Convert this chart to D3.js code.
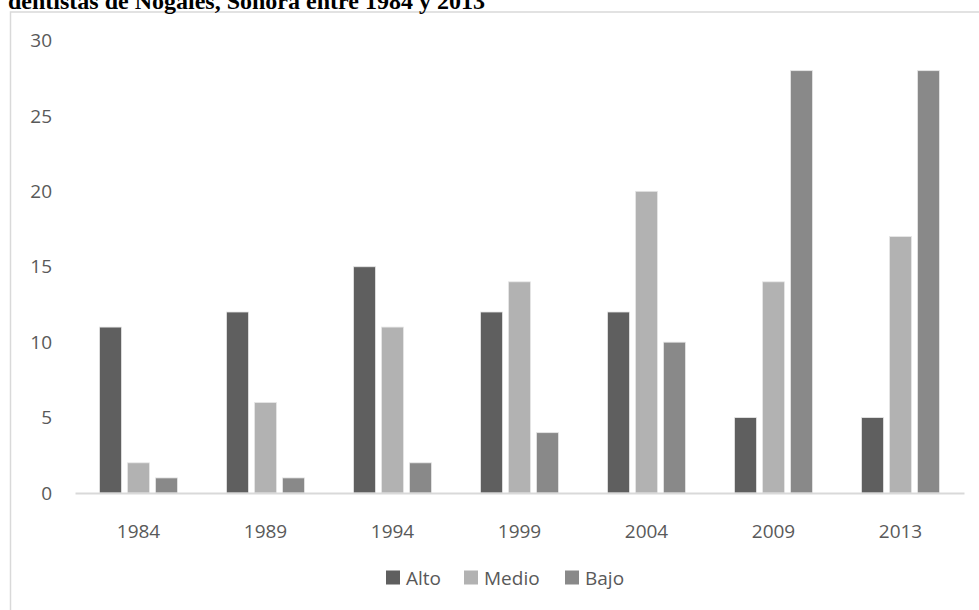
<!DOCTYPE html>
<html>
<head>
<meta charset="utf-8">
<script src="https://cdn.jsdelivr.net/npm/d3@7"></script>
<style>
  html, body { margin: 0; padding: 0; background: #fff; }
  svg { display: block; }
</style>
</head>
<body>
<svg id="chart" width="979" height="610"></svg>
<script>
// Category labels (years) and series values
const years = ["1984", "1989", "1994", "1999", "2004", "2009", "2013"];
const seriesNames = ["Alto", "Medio", "Bajo"];
const alto  = [11, 12, 15, 12, 12, 5, 5];
const medio = [2, 6, 11, 14, 20, 14, 17];
const bajo  = [1, 1, 2, 4, 10, 28, 28];
const yTicks = [0, 5, 10, 15, 20, 25, 30];
const colors = ["#5f5f5f", "#b2b2b2", "#898989"];
const titleText = "dentistas de Nogales, Sonora entre 1984 y 2013";

const values = { Alto: alto, Medio: medio, Bajo: bajo };

const svg = d3.select("#chart");
const textColor = "#595959";
const fontFamily = "'Open Sans', 'Liberation Sans', sans-serif";

// Chart frame (continues past the right and bottom edges)
svg.append("rect")
  .attr("x", 10.5).attr("y", 12)
  .attr("width", 1100).attr("height", 700)
  .attr("fill", "none")
  .attr("stroke", "#d9d9d9")
  .attr("stroke-width", 1.5);

// Title line running above the frame, its upper part off the top edge
svg.append("text")
  .attr("x", 8).attr("y", 9)
  .attr("font-family", "'Liberation Serif', 'Times New Roman', serif")
  .attr("font-weight", "bold")
  .attr("font-size", 24)
  .attr("fill", "#000")
  .text(titleText);

// Scales
const x0 = d3.scaleBand().domain(years).range([75, 964]).padding(0);
const groupW = 78;
const x1 = d3.scaleBand().domain(seriesNames)
  .range([(x0.bandwidth() - groupW) / 2, (x0.bandwidth() + groupW) / 2])
  .paddingInner(6 / 28).paddingOuter(0);
const y = d3.scaleLinear().domain([0, 30]).range([493, 40.5]);
const color = d3.scaleOrdinal().domain(seriesNames).range(colors);

// Y axis labels (no axis line or gridlines)
const yAxis = d3.axisLeft(y).tickValues(yTicks).tickSize(0).tickPadding(0);
const yg = svg.append("g").attr("transform", "translate(52,0)").call(yAxis);
yg.select(".domain").remove();
yg.selectAll("text")
  .attr("font-family", fontFamily)
  .attr("font-size", 19)
  .attr("fill", textColor);

// Bars
const groups = svg.append("g").selectAll("g")
  .data(years)
  .join("g")
  .attr("transform", d => `translate(${x0(d)},0)`);

groups.selectAll("rect")
  .data((d, i) => seriesNames.map(s => ({ s, v: values[s][i] })))
  .join("rect")
  .attr("x", d => x1(d.s))
  .attr("y", d => y(d.v))
  .attr("width", x1.bandwidth())
  .attr("height", d => y(0) - y(d.v))
  .attr("fill", d => color(d.s))
  .attr("stroke", "#e6e6e6")
  .attr("stroke-width", 0.8);

// X axis
const xAxis = d3.axisBottom(x0).tickSize(0).tickPadding(0);
const xg = svg.append("g").attr("transform", "translate(0,493)").call(xAxis);
xg.select(".domain")
  .attr("stroke", "#d9d9d9")
  .attr("stroke-width", 2);
xg.selectAll("text")
  .attr("dy", null)
  .attr("y", 45)
  .attr("font-family", fontFamily)
  .attr("font-size", 19)
  .attr("fill", textColor);

// Legend
const legendX = [386, 464, 565];
const legend = svg.append("g").selectAll("g")
  .data(seriesNames)
  .join("g")
  .attr("transform", (d, i) => `translate(${legendX[i]},570.5)`);
legend.append("rect")
  .attr("width", 14).attr("height", 14)
  .attr("fill", d => color(d));
legend.append("text")
  .attr("x", 20).attr("y", 14)
  .attr("font-family", fontFamily)
  .attr("font-size", 19)
  .attr("fill", textColor)
  .text(d => d);
</script>
</body>
</html>
